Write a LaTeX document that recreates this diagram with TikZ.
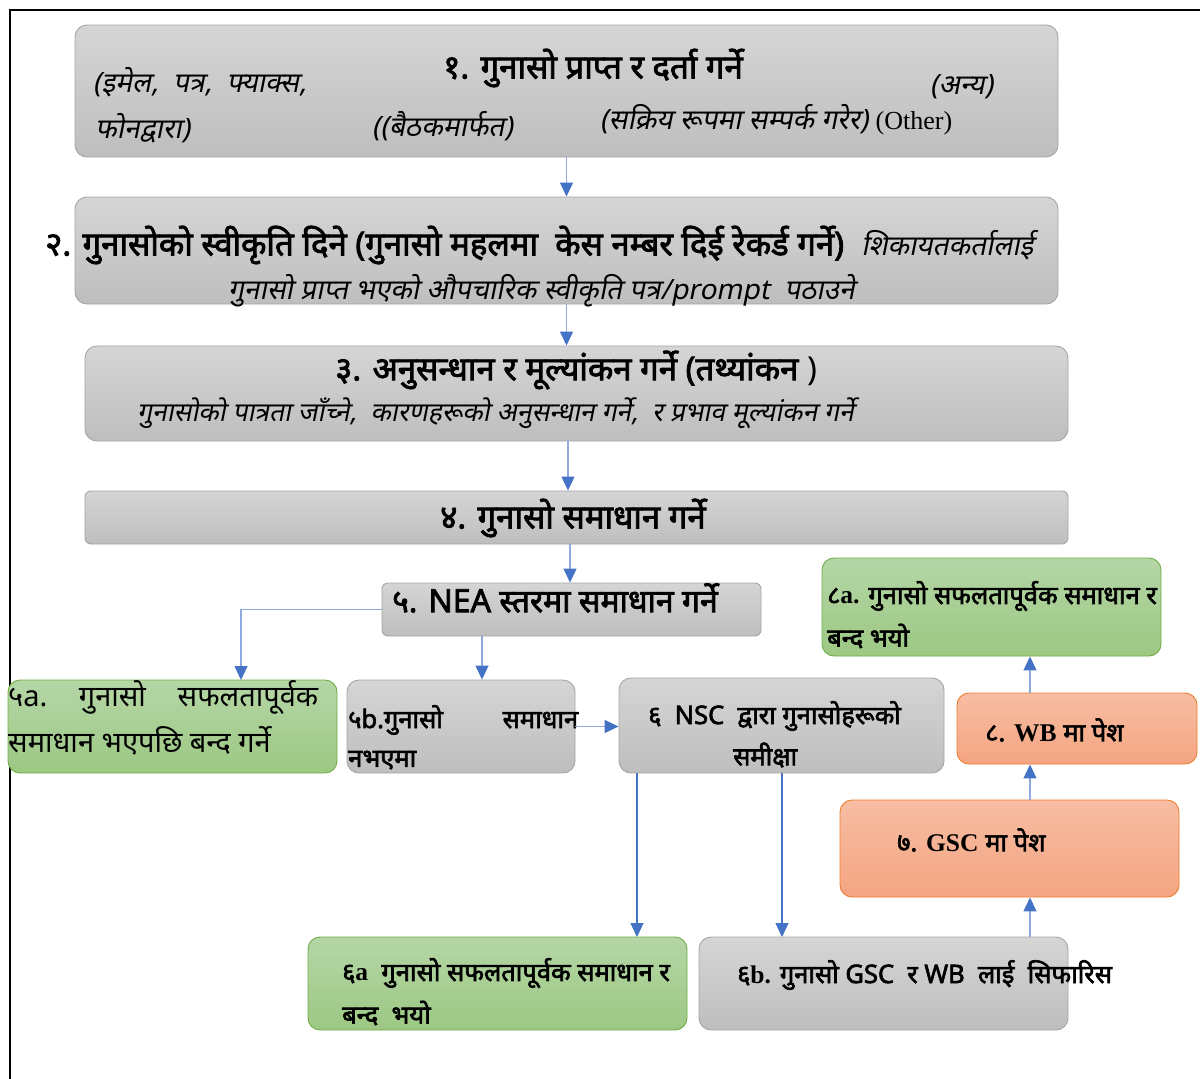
\documentclass[tikz,border=0pt]{standalone}
\usepackage{fontspec}
\setmainfont{Noto Sans}[Script=Devanagari]
\newfontfamily\devb{Noto Sans}[Script=Devanagari,FakeBold=2.5]
\newfontfamily\devit{Noto Sans}[Script=Devanagari,FakeSlant=0.2]
\newfontfamily\lat{Liberation Serif}
\usetikzlibrary{arrows.meta}

\definecolor{graytop}{HTML}{D5D5D5}
\definecolor{graybot}{HTML}{BEBEBE}
\definecolor{grayline}{HTML}{A5A5A5}
\definecolor{greentop}{HTML}{B5D6A6}
\definecolor{greenbot}{HTML}{9CC883}
\definecolor{greenline}{HTML}{70AD47}
\definecolor{orangetop}{HTML}{F7BDA3}
\definecolor{orangebot}{HTML}{F4A581}
\definecolor{orangeline}{HTML}{ED7D31}
\definecolor{linkblue}{HTML}{8FAADC}
\definecolor{tipblue}{HTML}{4472C4}

\tikzset{
  box/.style={rounded corners=12pt, line width=0.9pt, inner sep=0pt},
  graybox/.style={box, draw=grayline, top color=graytop, bottom color=graybot},
  greenbox/.style={box, draw=greenline, top color=greentop, bottom color=greenbot},
  orangebox/.style={box, draw=orangeline, top color=orangetop, bottom color=orangebot},
  conn/.style={draw=linkblue, line width=1.1pt, -{Triangle[color=tipblue, width=13pt, length=14pt]}},
  deepconn/.style={conn, draw=tipblue},
  txt/.style={inner sep=0pt, anchor=west, text=black},
  head/.style={txt, font=\devb\fontsize{33}{37}\selectfont},
  sub/.style={txt, font=\devit\fontsize{28}{32}\selectfont},
  lbl/.style={txt, font=\devb\fontsize{25.5}{30}\selectfont},
}

\begin{document}
\begin{tikzpicture}[x=1pt, y=-1pt]
	\useasboundingbox (0,0) rectangle (1200,1079);
	\draw[line width=1.2pt] (10,1079) -- (10,10) -- (1200,10);
	% boxes
	\node[graybox, minimum width=983, minimum height=132] (b1) at (566.5,91) {};
	\node[graybox, minimum width=983, minimum height=107] (b2) at (566.5,250.5) {};
	\node[graybox, minimum width=983, minimum height=95] (b3) at (576.5,393.5) {};
	\node[graybox, rounded corners=6pt, minimum width=983, minimum height=53] (b4) at (576.5,517.5) {};
	\node[graybox, rounded corners=6pt, minimum width=379, minimum height=53] (b5) at (571.5,609.5) {};
	\node[greenbox, minimum width=329, minimum height=93] (b5a) at (172.5,726.5) {};
	\node[graybox, minimum width=228, minimum height=93] (b5b) at (461,726.5) {};
	\node[graybox, minimum width=325, minimum height=95] (b6) at (781.5,725.5) {};
	\node[greenbox, minimum width=379, minimum height=93] (b6a) at (497.5,983.5) {};
	\node[graybox, minimum width=369, minimum height=93] (b6b) at (883.5,983.5) {};
	\node[orangebox, minimum width=339, minimum height=97] (b7) at (1009.5,848.5) {};
	\node[orangebox, minimum width=240, minimum height=71] (b8) at (1077,728.5) {};
	\node[greenbox, minimum width=339, minimum height=98] (b8a) at (991.5,607) {};
	% texts
	\node[head] (t1) at (443,68) {१. गुनासो प्राप्त र दर्ता गर्ने};
	\node[sub] (t1a) at (93,82) {(इमेल,\ \ पत्र,\ \ फ्याक्स,};
	\node[sub] (t1b) at (95,128) {फोनद्वारा)};
	\node[sub] (t1c) at (372,126) {((बैठकमार्फत)};
	\node[sub] (t1d) at (600,120) {(सक्रिय रूपमा सम्पर्क गरेर) {\lat\fontsize{26}{30}\selectfont(Other)}};
	\node[sub] (t1e) at (930,87) {(अन्य)};
	\node[head] (t2) at (45,245) {२. गुनासोको स्वीकृति दिने (गुनासो महलमा\ \ केस नम्बर दिई रेकर्ड गर्ने)\ \ {\devit\fontsize{28}{32}\selectfont शिकायतकर्तालाई}};
	\node[sub] (t2b) at (228,291) {गुनासो प्राप्त भएको औपचारिक स्वीकृति पत्र/prompt\ \ पठाउने};
	\node[head] (t3) at (335,370) {३. अनुसन्धान र मूल्यांकन गर्ने (तथ्यांकन {\rmfamily)}};
	\node[sub, font=\devit\fontsize{26.5}{30}\selectfont] (t3b) at (137,413) {गुनासोको पात्रता जाँच्ने,\ \ कारणहरूको अनुसन्धान गर्ने,\ \ र प्रभाव मूल्यांकन गर्ने};
	\node[head] (t4) at (440,518) {४. गुनासो समाधान गर्ने};
	\node[head, font=\devb\fontsize{32}{36}\selectfont] (t5) at (392,598) {५. NEA स्तरमा समाधान गर्ने};
	\node[txt, font=\fontsize{29}{33}\selectfont] (t5a) at (8,697) {\makebox[310pt][s]{५a.\hfill गुनासो\hfill सफलतापूर्वक}};
	\node[txt, font=\fontsize{29}{33}\selectfont] (t5a2) at (8,741) {समाधान भएपछि बन्द गर्ने};
	\node[lbl] (t5b) at (348,720) {\makebox[230pt][s]{५b.गुनासो\hfill समाधान}};
	\node[lbl] (t5b2) at (348,760) {नभएमा};
	\node[lbl] (t6) at (648,716) {६\ \ NSC\ \ द्वारा गुनासोहरूको};
	\node[lbl] (t62) at (733,755) {समीक्षा};
	\node[lbl] (t6a) at (342,973) {६{\lat\bfseries a}\ \ गुनासो सफलतापूर्वक समाधान र};
	\node[lbl] (t6a2) at (342,1013) {बन्द\ \ भयो};
	\node[lbl] (t6b) at (737,975) {६{\lat\bfseries b.} गुनासो GSC\ \ र WB\ \ लाई\ \ सिफारिस};
	\node[lbl] (t7) at (897,840) {७. {\lat\bfseries GSC} मा पेश};
	\node[lbl] (t8) at (985,730) {८. {\lat\bfseries WB} मा पेश};
	\node[lbl] (t8a) at (827,596) {८{\lat\bfseries a.} गुनासो सफलतापूर्वक समाधान र};
	\node[lbl] (t8a2) at (827,636) {बन्द भयो};
	% connectors
	\coordinate (k5a) at (241,680);
	\coordinate (k6a) at (637,937);
	\coordinate (k6b) at (782,937);
	\draw[conn] (b1.south) -- (b2.north);
	\draw[conn] (b2.south) -- (b3.north -| b2.south);
	\draw[conn] (b3.south -| 568,0) -- (b4.north -| 568,0);
	\draw[conn] (b4.south -| 570,0) -- (b5.north -| 570,0);
	\draw[conn] (b5.west) -| (k5a);
	\draw[conn] (b5.south -| 482,0) -- (b5b.north -| 482,0);
	\draw[conn] (b5b.east) -- (b6.west |- b5b.east);
	\draw[deepconn] (b6.south -| k6a) -- (k6a);
	\draw[deepconn] (b6.south -| k6b) -- (k6b);
	\draw[conn] (b6b.north -| 1030,0) -- (b7.south -| 1030,0);
	\draw[conn] (b7.north -| 1030,0) -- (b8.south -| 1030,0);
	\draw[conn] (b8.north -| 1030,0) -- (b8a.south -| 1030,0);
\end{tikzpicture}
\end{document}
